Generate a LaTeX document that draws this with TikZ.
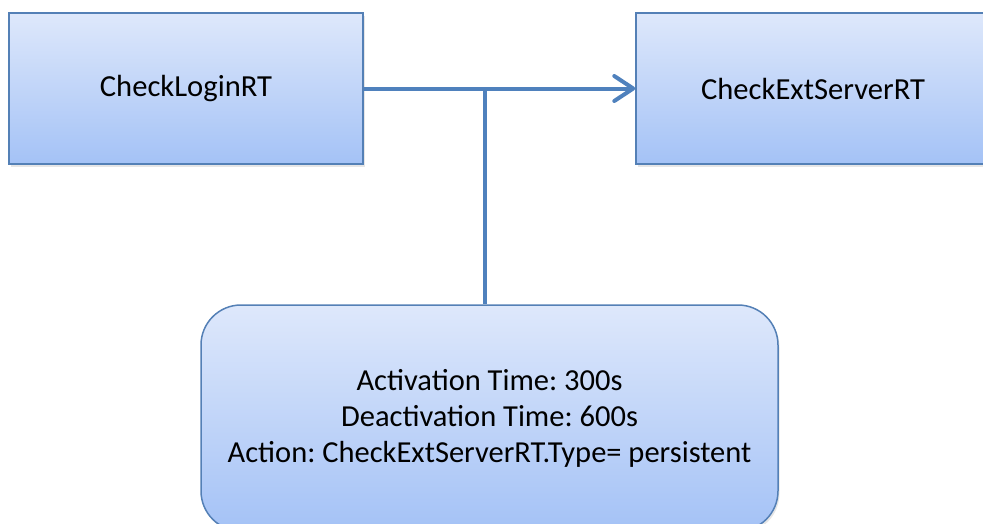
\documentclass[tikz,border=0pt]{standalone}
\usepackage{fontspec}
\setmainfont{Carlito}
\usetikzlibrary{arrows.meta,shadows}
\definecolor{rtline}{RGB}{79,129,189}
\definecolor{rtedge}{RGB}{84,128,182}
\definecolor{rttop}{RGB}{222,232,251}
\definecolor{rtbot}{RGB}{164,194,246}
\frenchspacing
\begin{document}
\begin{tikzpicture}[
    x=1pt, y=-1pt,
    rt/.style={rectangle, draw=rtedge, line width=1.5pt, top color=rttop, bottom color=rtbot,
        minimum width=354pt, minimum height=151pt, inner sep=0pt,
        font=\fontsize{30.6}{36}\selectfont,
        drop shadow={shadow xshift=1.5pt, shadow yshift=-2.5pt, opacity=0.2}},
    cond/.style={rt, rounded corners=40pt, minimum width=577pt, minimum height=226pt,
        align=center, font=\fontsize{30.5}{36}\selectfont},
    link/.style={draw=rtline, line width=4pt},
    arrow/.style={link, -{Straight Barb[length=19pt, width=25pt, line join=round, line cap=round]}}
]
    \useasboundingbox (0,0) rectangle (983,523);
    \clip (0,0) rectangle (983,523);
    \node[rt] (login) at (186,88.5) {CheckLoginRT};
    \node[rt] (ext) at (813,88.5) {CheckExtServerRT};
    \node[cond] (rule) at (489.5,418) {Activation Time: 300s\\Deactivation Time: 600s\\Action: CheckExtServerRT.Type= persistent};
    \coordinate (join) at (485,88.5);
    \draw[arrow] (login.east) -- (ext.west);
    \draw[link] (join) -- (join |- rule.north);
\end{tikzpicture}
\end{document}
